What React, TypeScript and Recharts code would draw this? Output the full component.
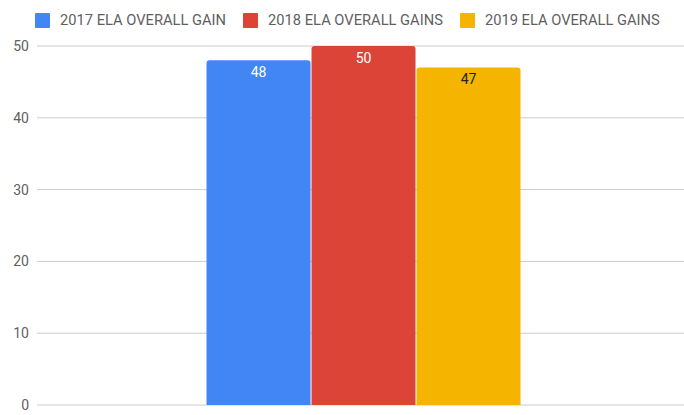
import { BarChart, Bar, XAxis, YAxis, CartesianGrid, Legend, LabelList } from "recharts";

const categories = ["ELA"];
const gains2017 = [48];
const gains2018 = [50];
const gains2019 = [47];
const yTicks = [0, 10, 20, 30, 40, 50];

const seriesInfo = [
  { key: "g2017", name: "2017 ELA OVERALL GAIN", color: "#4285F4", labelColor: "#ffffff" },
  { key: "g2018", name: "2018 ELA OVERALL GAINS", color: "#DB4437", labelColor: "#ffffff" },
  { key: "g2019", name: "2019 ELA OVERALL GAINS", color: "#F4B400", labelColor: "#222222" },
];

const data = categories.map((c, i) => ({
  name: c,
  g2017: gains2017[i],
  g2018: gains2018[i],
  g2019: gains2019[i],
}));

function TopLegend() {
  return (
    <div style={{ display: "flex", alignItems: "center", height: 30, paddingLeft: 35, gap: 17 }}>
      {seriesInfo.map((s) => (
        <div key={s.key} style={{ display: "flex", alignItems: "center" }}>
          <span style={{ width: 15, height: 15, background: s.color, borderRadius: 1, marginRight: 10 }} />
          <span style={{ fontSize: 14.7, color: "#5f5f5f" }}>{s.name}</span>
        </div>
      ))}
    </div>
  );
}

export default function App() {
  return (
    <div style={{ position: "absolute", left: 0, top: 0, fontFamily: "Roboto, sans-serif" }}>
      <BarChart
        width={684}
        height={415}
        data={data}
        margin={{ top: 16, right: -5, bottom: 10, left: 0 }}
        barCategoryGap="26%"
        barGap={1}
      >
        <CartesianGrid vertical={false} stroke="#cccccc" />
        <XAxis dataKey="name" tick={false} tickLine={false} height={0} axisLine={{ stroke: "#333", strokeWidth: 1.5 }} />
        <YAxis
          width={37}
          domain={[0, 50]}
          ticks={yTicks}
          axisLine={false}
          tickLine={false}
          tick={{ fill: "#5f5f5f", fontSize: 14 }}
        />
        <Legend verticalAlign="top" content={() => <TopLegend />} wrapperStyle={{ top: 5, left: 0, width: 684 }} />
        {seriesInfo.map((s) => (
          <Bar key={s.key} dataKey={s.key} name={s.name} fill={s.color} radius={[3, 3, 0, 0]} isAnimationActive={false}>
            <LabelList dataKey={s.key} position="insideTop" offset={7} fill={s.labelColor} fontSize={14} />
          </Bar>
        ))}
      </BarChart>
    </div>
  );
}
